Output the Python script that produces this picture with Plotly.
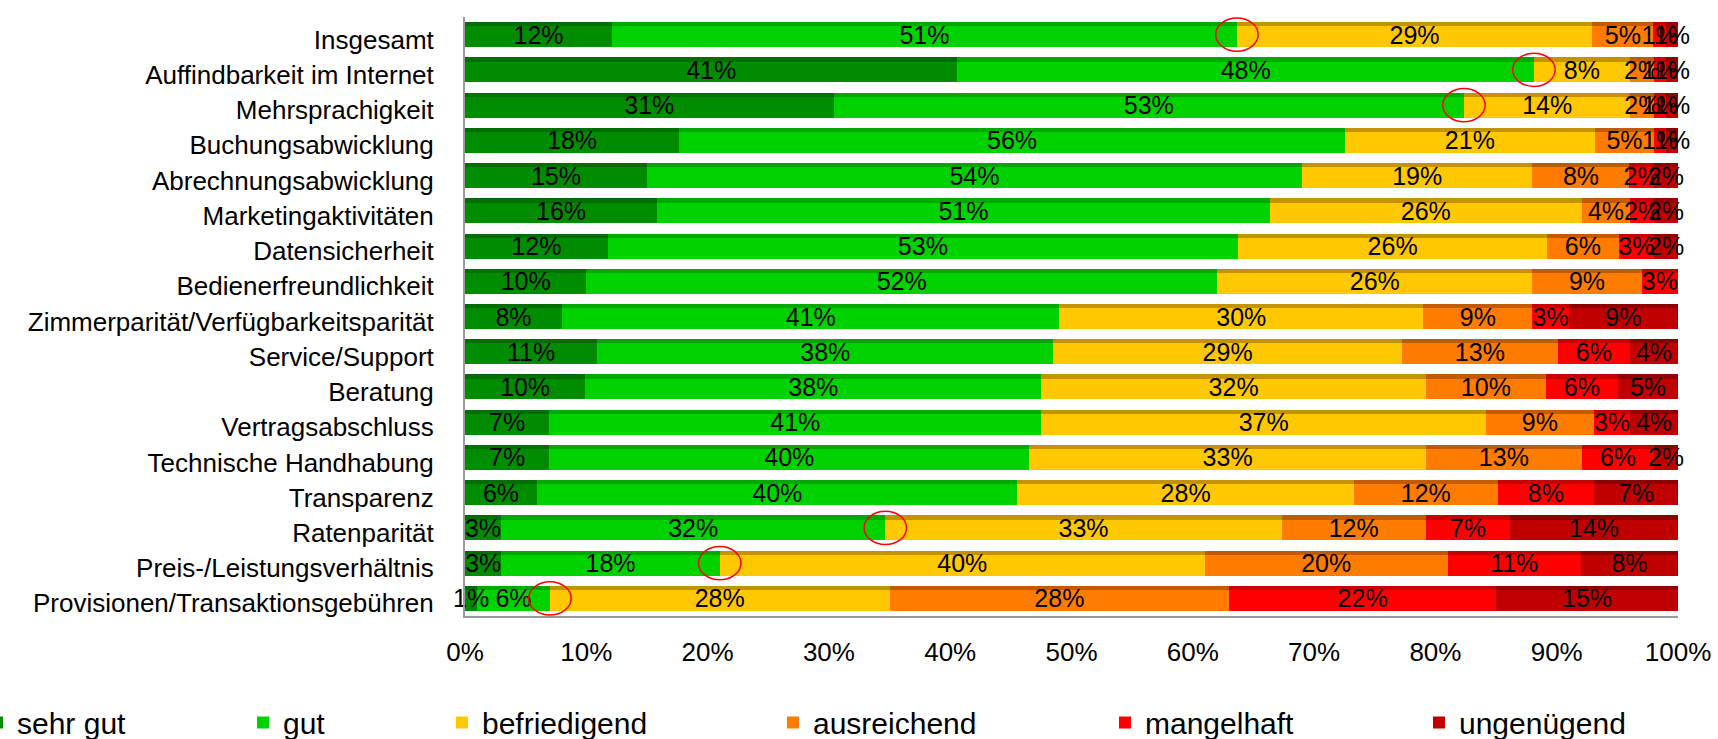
import plotly.graph_objects as go

categories = ["Insgesamt", "Auffindbarkeit im Internet", "Mehrsprachigkeit", "Buchungsabwicklung",
              "Abrechnungsabwicklung", "Marketingaktivitäten", "Datensicherheit", "Bedienerfreundlichkeit",
              "Zimmerparität/Verfügbarkeitsparität", "Service/Support", "Beratung", "Vertragsabschluss",
              "Technische Handhabung", "Transparenz", "Ratenparität", "Preis-/Leistungsverhältnis",
              "Provisionen/Transaktionsgebühren"]
sehr_gut = [12, 41, 31, 18, 15, 16, 12, 10, 8, 11, 10, 7, 7, 6, 3, 3, 1]
gut = [51, 48, 53, 56, 54, 51, 53, 52, 41, 38, 38, 41, 40, 40, 32, 18, 6]
befriedigend = [29, 8, 14, 21, 19, 26, 26, 26, 30, 29, 32, 37, 33, 28, 33, 40, 28]
ausreichend = [5, 2, 2, 5, 8, 4, 6, 9, 9, 13, 10, 9, 13, 12, 12, 20, 28]
mangelhaft = [1, 1, 1, 1, 2, 2, 3, 3, 3, 6, 6, 3, 6, 8, 7, 11, 22]
ungenuegend = [1, 1, 1, 1, 2, 2, 2, 0, 9, 4, 5, 4, 2, 7, 14, 8, 15]
series_names = ["sehr gut", "gut", "befriedigend", "ausreichend", "mangelhaft", "ungenügend"]
highlighted = ["Insgesamt", "Auffindbarkeit im Internet", "Mehrsprachigkeit", "Ratenparität",
               "Preis-/Leistungsverhältnis", "Provisionen/Transaktionsgebühren"]
x_ticks = [0, 10, 20, 30, 40, 50, 60, 70, 80, 90, 100]

series = [sehr_gut, gut, befriedigend, ausreichend, mangelhaft, ungenuegend]
front_colors = ["#008C00", "#00D200", "#FFC800", "#FF7C00", "#FF0000", "#C00000"]
top_colors = ["#006E00", "#00A800", "#C39400", "#C25A00", "#C80000", "#8E0000"]
FONT = "Liberation Sans, Arial, sans-serif"

PL, PR = 465, 40
PW = 1718 - PL - PR
legend_text_px = [17, 283, 482, 813, 1145, 1459]

fig = go.Figure()
BW = 0.71
# front faces (with legend)
for i, (name, vals) in enumerate(zip(series_names, series)):
    lname = "legend" if i == 0 else f"legend{i+1}"
    fig.add_trace(go.Bar(
        y=categories, x=vals, orientation="h", name=name,
        marker=dict(color=front_colors[i], line=dict(width=0)),
        width=BW, legend=lname, hoverinfo="skip",
    ))
# darker top faces (3D look)
for i, vals in enumerate(series):
    fig.add_trace(go.Bar(
        y=categories, x=vals, orientation="h", yaxis="y2",
        marker=dict(color=top_colors[i], line=dict(width=0)),
        width=0.12, offset=-BW / 2, showlegend=False, hoverinfo="skip",
    ))
# value labels drawn on top of all bars
for i, vals in enumerate(series):
    fig.add_trace(go.Bar(
        y=categories, x=vals, orientation="h", yaxis="y3",
        marker=dict(color="rgba(0,0,0,0)", line=dict(width=0)),
        width=BW, showlegend=False, hoverinfo="skip",
        text=[f"{v}%" if v > 0 else "" for v in vals],
        textposition="inside", insidetextanchor="middle", textangle=0,
        constraintext="none", cliponaxis=False,
        textfont=dict(family=FONT, size=25, color="black"),
    ))

# red circles at the gut / befriedigend boundary
for cat in highlighted:
    k = categories.index(cat)
    total = sum(s[k] for s in series)
    bx = (sehr_gut[k] + gut[k]) / total * 100
    fig.add_shape(type="circle", xref="x", yref="y",
                  x0=bx - 1.75, x1=bx + 1.75, y0=k - 0.47, y1=k + 0.47,
                  line=dict(color="#FF0000", width=1.5))

legends = {}
for i, tx in enumerate(legend_text_px):
    key = "legend" if i == 0 else f"legend{i+1}"
    legends[key] = dict(
        x=(tx - 40 - PL) / PW, xanchor="left", y=-0.178, yanchor="middle",
        orientation="h", font=dict(family=FONT, size=30, color="black"),
        bgcolor="rgba(0,0,0,0)", borderwidth=0, itemwidth=30,
    )

fig.update_layout(
    width=1718, height=739,
    margin=dict(l=PL, r=PR, t=17, b=123, autoexpand=False),
    barmode="stack", barnorm="percent",
    paper_bgcolor="white", plot_bgcolor="white",
    font=dict(family=FONT, color="black"),
    xaxis=dict(range=[0, 100], tickvals=x_ticks, ticktext=[f"{t}%" for t in x_ticks],
               showgrid=False, zeroline=False, showline=True, linecolor="#9A9A9A", linewidth=2,
               ticks="", tickfont=dict(family=FONT, size=26, color="black"), ticklabelstandoff=12),
    yaxis=dict(autorange="reversed", showgrid=False, zeroline=False, showline=True,
               linecolor="#9A9A9A", linewidth=2, ticks="",
               tickfont=dict(family=FONT, size=26, color="black"), ticklabelstandoff=24,
               ticklabelshift=-5),
    yaxis2=dict(overlaying="y", matches="y", visible=False),
    yaxis3=dict(overlaying="y", matches="y", visible=False),
    **legends,
)

fig.write_html("out.html")
